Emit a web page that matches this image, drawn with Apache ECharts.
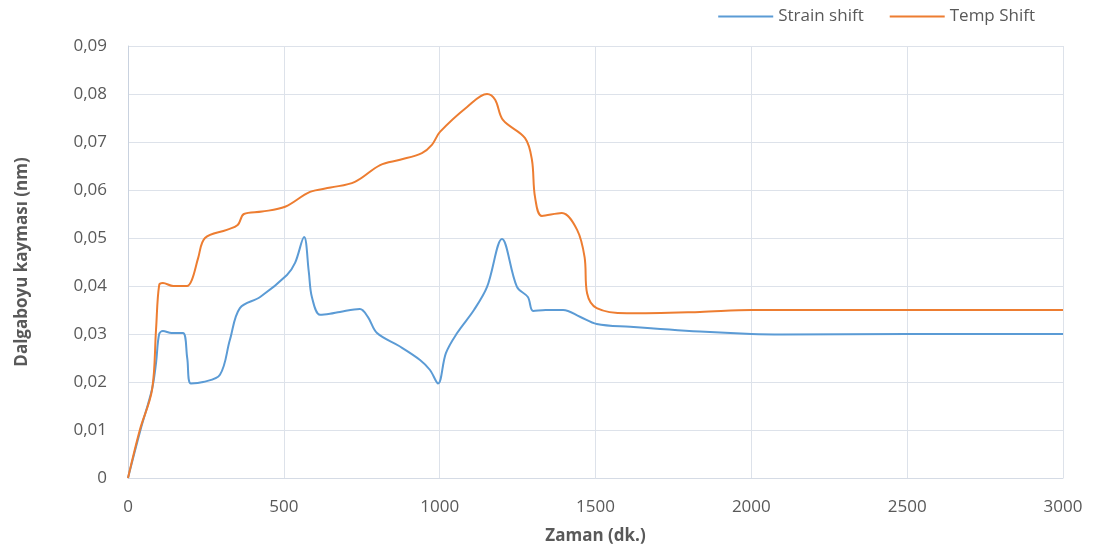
<!DOCTYPE html>
<html><head><meta charset="utf-8">
<script src="https://cdn.jsdelivr.net/npm/echarts@6/dist/echarts.min.js"></script>
<style>html,body{margin:0;padding:0;background:#fff}#c{width:1096px;height:554px}</style>
</head><body><div id="c"></div>
<script>
const strainTime = [0, 40, 77, 90, 100, 112, 140, 176, 190, 202, 241, 295, 327, 359, 424, 510, 536, 565, 580, 590, 616, 648, 680, 744, 770, 799, 870, 937, 969, 995, 1020, 1056, 1110, 1152, 1200, 1248, 1283, 1300, 1340, 1396, 1450, 1504, 1611, 1835, 2000, 2100, 2500, 3000];
const strainValues = [0, 0.010, 0.0185, 0.024, 0.0300, 0.0306, 0.0302, 0.0302, 0.025, 0.0197, 0.0200, 0.0215, 0.0288, 0.0354, 0.0377, 0.0423, 0.0448, 0.0502, 0.043, 0.0377, 0.0340, 0.0342, 0.0346, 0.0352, 0.0335, 0.0302, 0.0275, 0.0246, 0.0225, 0.0197, 0.0260, 0.0302, 0.0350, 0.0398, 0.0498, 0.0398, 0.0377, 0.0348, 0.0350, 0.0350, 0.0336, 0.0321, 0.0315, 0.0305, 0.0300, 0.0299, 0.0300, 0.0300];
const tempTime = [0, 38, 77, 90, 100, 112, 145, 189, 205, 225, 247, 317, 352, 372, 430, 504, 584, 650, 728, 809, 873, 943, 975, 1001, 1088, 1152, 1178, 1203, 1274, 1296, 1306, 1328, 1392, 1441, 1465, 1473, 1504, 1601, 1835, 2000, 2500, 3000];
const tempValues = [0, 0.010, 0.0183, 0.031, 0.0402, 0.0406, 0.0400, 0.0400, 0.0413, 0.0458, 0.0500, 0.0517, 0.0527, 0.0550, 0.0555, 0.0565, 0.0596, 0.0605, 0.0617, 0.0652, 0.0663, 0.0677, 0.0694, 0.0721, 0.0773, 0.0800, 0.0788, 0.0746, 0.0708, 0.0663, 0.0585, 0.0546, 0.0552, 0.0517, 0.0460, 0.0385, 0.0354, 0.0343, 0.0346, 0.0350, 0.0350, 0.0350];
const seriesNames = ['Strain shift', 'Temp Shift'];

const pair = (t, v) => t.map((x, i) => [x, v[i]]);
const font = '"Open Sans", "Liberation Sans", sans-serif';
const txt = '#595959';
const chart = echarts.init(document.getElementById('c'));
chart.setOption({
  animation: false,
  grid: {left: 128, right: 33, top: 46, bottom: 76},
  legend: {
    top: 3, right: 56, itemWidth: 55, itemHeight: 2, itemGap: 26,
    icon: 'rect',
    textStyle: {color: txt, fontSize: 17, fontFamily: font},
    data: seriesNames
  },
  xAxis: {
    type: 'value', min: 0, max: 3000, interval: 500,
    name: 'Zaman (dk.)', nameLocation: 'middle', nameGap: 50,
    nameTextStyle: {color: txt, fontSize: 17, fontWeight: 'bold', fontFamily: font},
    axisLine: {show: true, lineStyle: {color: '#d5dbe5', width: 1}},
    axisTick: {show: false},
    axisLabel: {color: txt, fontSize: 17, fontFamily: font, margin: 21, formatter: v => String(v)},
    splitLine: {show: true, lineStyle: {color: '#dde2ea', width: 1}}
  },
  yAxis: {
    type: 'value', min: 0, max: 0.09, interval: 0.01,
    name: 'Dalgaboyu kayması (nm)', nameLocation: 'middle', nameGap: 97, nameRotate: 90,
    nameTextStyle: {color: txt, fontSize: 17, fontWeight: 'bold', fontFamily: font},
    axisLine: {show: true, lineStyle: {color: '#c9d2df', width: 1}},
    axisTick: {show: false},
    axisLabel: {color: txt, fontSize: 17, fontFamily: font, margin: 21,
      formatter: v => v === 0 ? '0' : v.toFixed(2).replace('.', ',')},
    splitLine: {show: true, lineStyle: {color: '#dde2ea', width: 1}}
  },
  series: [
    {name: seriesNames[0], type: 'line', data: pair(strainTime, strainValues), smooth: 0.35,
      showSymbol: false, lineStyle: {color: '#5B9BD5', width: 2}, itemStyle: {color: '#5B9BD5'}},
    {name: seriesNames[1], type: 'line', data: pair(tempTime, tempValues), smooth: 0.35,
      showSymbol: false, lineStyle: {color: '#ED7D31', width: 2}, itemStyle: {color: '#ED7D31'}}
  ]
});
</script></body></html>
